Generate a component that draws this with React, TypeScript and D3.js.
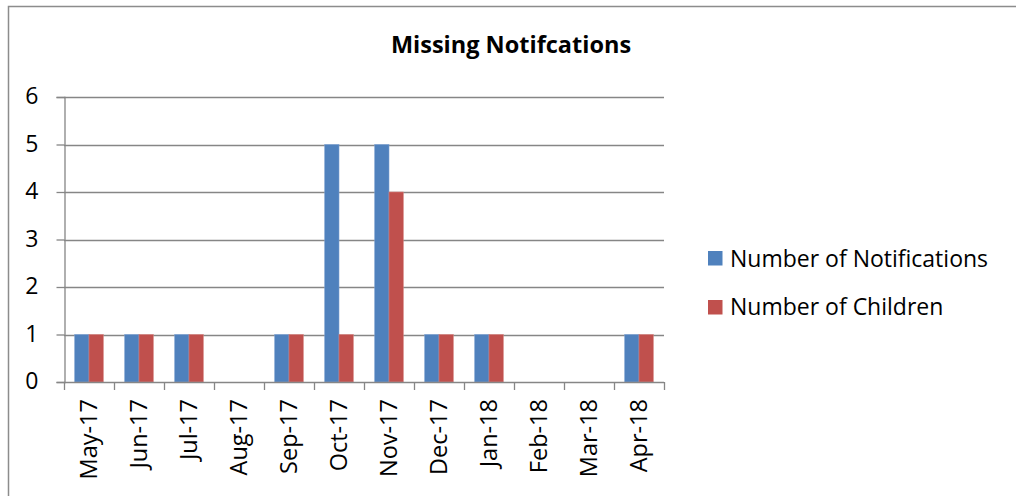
import React, { useRef, useEffect } from 'react';
import * as d3 from 'd3';

// chart data
const months = ['May-17', 'Jun-17', 'Jul-17', 'Aug-17', 'Sep-17', 'Oct-17', 'Nov-17', 'Dec-17', 'Jan-18', 'Feb-18', 'Mar-18', 'Apr-18'];
const notifications = [1, 1, 1, 0, 1, 5, 5, 1, 1, 0, 0, 1];
const children = [1, 1, 1, 0, 1, 1, 4, 1, 1, 0, 0, 1];
const seriesNames = ['Number of Notifications', 'Number of Children'];
const seriesColors = ['#4F81BD', '#C0504D'];
const yTicks = [0, 1, 2, 3, 4, 5, 6];

const W = 1016;
const H = 496;
const FONT = '"Open Sans", "Noto Sans", sans-serif';

const App = () => {
    const svgRef = useRef<SVGSVGElement>(null);

    useEffect(() => {
        const svg = d3.select(svgRef.current);
        svg.selectAll('*').remove();

        const left = 64, right = 664, top = 97, bottom = 382;

        // frame (only left/top visible, rest is cropped)
        svg.append('rect')
            .attr('x', 8.5).attr('y', 6.5)
            .attr('width', W + 10).attr('height', H + 10)
            .attr('fill', 'white')
            .attr('stroke', '#8c8c8c').attr('stroke-width', 1.5);

        const x = d3.scaleBand().domain(months).range([left, right]).padding(0);
        const xs = d3.scaleBand().domain(seriesNames).range([0, x.bandwidth()]).paddingInner(0).paddingOuter(0.75);
        const y = d3.scaleLinear().domain([0, 6]).range([bottom, top]);

        // gridlines
        svg.append('g').selectAll('line')
            .data(yTicks.filter(t => t > 0))
            .enter().append('line')
            .attr('x1', left).attr('x2', right)
            .attr('y1', d => Math.round(y(d)) + 0.5).attr('y2', d => Math.round(y(d)) + 0.5)
            .attr('stroke', '#868686').attr('stroke-width', 1.3);

        // bars
        const data = [notifications, children];
        data.forEach((vals, si) => {
            svg.append('g').selectAll('rect')
                .data(vals)
                .enter().append('rect')
                .attr('x', (d, i) => (x(months[i]) as number) + (xs(seriesNames[si]) as number))
                .attr('y', d => y(d))
                .attr('width', xs.bandwidth())
                .attr('height', d => bottom - y(d))
                .attr('fill', seriesColors[si])
                .attr('stroke', si === 0 ? '#7a9fd0' : '#d27f7c')
                .attr('stroke-width', 0.6);
        });

        // y axis
        const yAxis = d3.axisLeft(y).tickValues(yTicks).tickSize(8).tickFormat(d3.format('d'));
        const gy = svg.append('g').attr('transform', `translate(${left + 0.5},0)`).call(yAxis);
        gy.select('.domain').attr('stroke', '#868686').attr('stroke-width', 1.3);
        gy.selectAll('.tick line').attr('stroke', '#868686').attr('stroke-width', 1.3);
        gy.selectAll('.tick text')
            .attr('x', -26).attr('dy', '0.3em')
            .attr('font-family', FONT).attr('font-size', 23).attr('fill', '#000');

        // x axis
        svg.append('line')
            .attr('x1', left).attr('x2', right)
            .attr('y1', bottom + 0.5).attr('y2', bottom + 0.5)
            .attr('stroke', '#868686').attr('stroke-width', 1.3);
        const bounds = months.map(m => x(m) as number).concat([right]);
        svg.append('g').selectAll('line')
            .data(bounds)
            .enter().append('line')
            .attr('x1', d => Math.round(d) + 0.5).attr('x2', d => Math.round(d) + 0.5)
            .attr('y1', bottom).attr('y2', bottom + 8)
            .attr('stroke', '#868686').attr('stroke-width', 1.3);
        svg.append('g').selectAll('text')
            .data(months)
            .enter().append('text')
            .attr('transform', d => `translate(${(x(d) as number) + x.bandwidth() / 2},399) rotate(-90)`)
            .attr('dy', '0.35em')
            .attr('text-anchor', 'end')
            .attr('font-family', FONT).attr('font-size', 23.5)
            .text(d => d);

        // title
        svg.append('text')
            .attr('x', 511).attr('y', 53)
            .attr('text-anchor', 'middle')
            .attr('font-family', FONT).attr('font-size', 23.5).attr('font-weight', 'bold')
            .text('Missing Notifcations');

        // legend
        const lg = svg.append('g');
        seriesNames.forEach((name, i) => {
            lg.append('rect')
                .attr('x', 708).attr('y', 251 + i * 49)
                .attr('width', 14.5).attr('height', 14.5)
                .attr('fill', seriesColors[i]);
            lg.append('text')
                .attr('x', 730).attr('y', 266.5 + i * 48.5)
                .attr('font-family', FONT).attr('font-size', 23)
                .style('font-variant-ligatures', 'none')
                .text(name);
        });
    }, []);

    return (
        <svg ref={svgRef} width={W} height={H}
            style={{ position: 'absolute', left: 0, top: 0, background: 'white' }} />
    );
};

export default App;
